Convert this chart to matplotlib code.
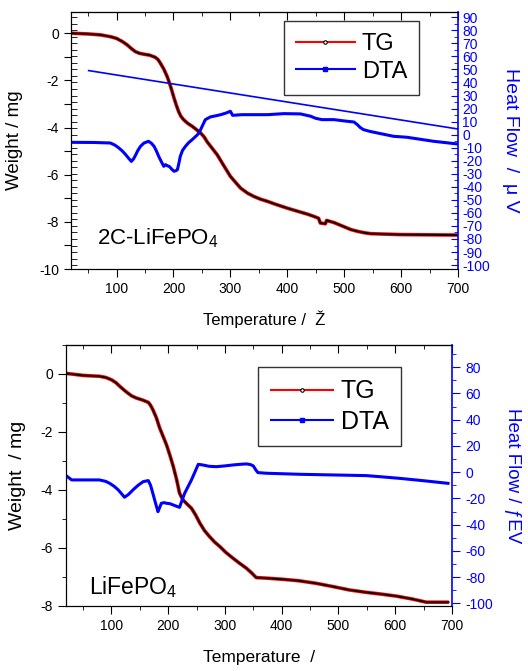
import matplotlib
matplotlib.use("Agg")
import matplotlib.pyplot as plt
from matplotlib.ticker import MultipleLocator, FixedLocator, FuncFormatter
from matplotlib.lines import Line2D
import numpy as np

plt.rcParams['font.family'] = ['Liberation Sans', 'DejaVu Sans']
plt.rcParams['mathtext.default'] = 'regular'
plt.rcParams['axes.unicode_minus'] = False

# ---------------- Top panel data (2C-LiFePO4) ----------------
tg1_T = [21, 50, 72, 90, 100, 110, 119, 126, 133, 140, 148, 158, 168, 173, 177, 183, 189, 195,
         201, 205, 209, 213, 218, 225, 233, 240, 248, 254, 259, 268, 277, 288, 300, 310, 318,
         330, 341, 353, 365, 380, 400, 418, 435, 448, 455, 458, 467, 469, 482, 499, 512, 523,
         535, 546, 570, 599, 700]
tg1_W = [0.0, -0.03, -0.07, -0.15, -0.22, -0.35, -0.5, -0.65, -0.78, -0.85, -0.89, -0.93, -1.02,
         -1.12, -1.27, -1.52, -1.84, -2.26, -2.75, -3.05, -3.32, -3.52, -3.67, -3.82, -3.95,
         -4.08, -4.24, -4.4, -4.6, -4.88, -5.16, -5.6, -6.07, -6.35, -6.57, -6.78, -6.92, -7.04,
         -7.13, -7.26, -7.42, -7.55, -7.67, -7.78, -7.85, -8.05, -8.08, -7.94, -8.03, -8.2,
         -8.33, -8.4, -8.46, -8.5, -8.52, -8.54, -8.56]
dta1_T = [21, 60, 89, 97, 104, 110, 116, 121, 126, 130, 133, 137, 142, 148, 156, 161, 166, 170,
          174, 179, 183, 186, 189, 193, 197, 201, 205, 207, 210, 212, 216, 221, 227, 233, 240,
          245, 250, 256, 265, 275, 283, 292, 300, 304, 320, 335, 365, 394, 423, 441, 450, 461,
          482, 500, 517, 523, 528, 534, 545, 558, 587, 610, 657, 700]
dta1_H = [-5.9, -6.0, -6.4, -8.0, -10.2, -12.5, -15.3, -18.0, -20.5, -18.5, -16.1, -12.5, -9.0,
          -6.5, -5.1, -6.5, -9.0, -12.5, -16.6, -21.0, -24.3, -23.0, -23.8, -24.5, -26.5, -28.1,
          -27.5, -26.8, -21.0, -16.6, -12.0, -9.0, -6.0, -3.8, -1.0, 1.3, 6.0, 11.5, 13.6, 14.5,
          15.3, 16.5, 17.9, 14.8, 15.3, 15.3, 15.3, 16.1, 15.9, 14.1, 12.5, 11.5, 11.5, 10.5,
          9.7, 7.7, 5.5, 3.8, 2.5, 1.3, -1.3, -2.0, -5.1, -7.2]
base1_T = [51, 700]
base1_H = [49.1, 4.3]

# ---------------- Bottom panel data (LiFePO4) ----------------
tg2_T = [20, 50, 79, 90, 100, 108, 115, 122, 129, 136, 144, 155, 165, 169, 173, 179, 185, 191,
         197, 203, 209, 215, 220, 226, 233, 241, 248, 256, 264, 273, 282, 291, 302, 314, 326,
         338, 347, 355, 373, 402, 430, 461, 490, 520, 549, 575, 602, 630, 655, 693]
tg2_W = [0.02, -0.05, -0.08, -0.12, -0.2, -0.3, -0.43, -0.55, -0.66, -0.76, -0.83, -0.9, -0.98,
         -1.08, -1.23, -1.5, -1.86, -2.15, -2.44, -2.8, -3.19, -3.65, -4.11, -4.34, -4.48, -4.63,
         -4.85, -5.15, -5.4, -5.61, -5.8, -5.95, -6.16, -6.35, -6.53, -6.7, -6.86, -7.02, -7.04,
         -7.08, -7.13, -7.22, -7.33, -7.45, -7.53, -7.59, -7.66, -7.76, -7.87, -7.87]
dta2_T = [21, 30, 79, 90, 97, 105, 112, 118, 123, 130, 138, 147, 156, 165, 169, 173, 178, 182,
          185, 188, 193, 197, 203, 209, 215, 220, 224, 229, 235, 241, 247, 253, 261, 272, 285,
          300, 314, 327, 338, 345, 350, 354, 358, 373, 432, 490, 549, 575, 608, 650, 693]
dta2_H = [-2.9, -5.9, -5.9, -7.0, -8.5, -10.8, -13.5, -16.5, -19.1, -17.0, -13.5, -10.0, -7.2,
          -6.4, -10.0, -16.1, -24.0, -30.1, -27.0, -23.7, -23.2, -23.7, -24.0, -25.0, -26.0,
          -26.8, -22.0, -16.1, -11.0, -5.9, 0.0, 6.0, 5.5, 4.5, 4.2, 4.8, 5.5, 6.0, 6.3, 5.8,
          4.8, 2.0, -0.3, -0.8, -1.6, -2.1, -2.6, -3.5, -4.7, -6.5, -8.5]

BLUE = (0, 0, 1)

fig = plt.figure(figsize=(5.28, 6.71), dpi=100)


def setup_x(ax):
    ax.set_xlim(20, 700)
    ax.xaxis.set_major_locator(MultipleLocator(100))
    ax.xaxis.set_minor_locator(MultipleLocator(50))
    ax.tick_params(axis='x', which='both', direction='out', top=False, labelsize=10)
    ax.tick_params(axis='x', which='major', length=6)
    ax.tick_params(axis='x', which='minor', length=3)
    sec = ax.secondary_xaxis('top')
    sec.xaxis.set_major_locator(MultipleLocator(100))
    sec.xaxis.set_minor_locator(MultipleLocator(50))
    sec.tick_params(axis='x', which='both', direction='in', labeltop=False)
    sec.tick_params(axis='x', which='major', length=6)
    sec.tick_params(axis='x', which='minor', length=3)


def draw_tg(ax, T, W):
    ax.plot(T, W, color='red', lw=2.6, solid_capstyle='round')
    ax.plot(T, W, color='black', lw=1.3)


def legend(ax, fontsize, anchor):
    h = [Line2D([], [], color='red', lw=1.5, marker='o', ms=2.5, mfc='white', mec='black', mew=0.8),
         Line2D([], [], color=BLUE, lw=1.5, marker='s', ms=2.5, mfc=BLUE, mec=BLUE)]
    leg = ax.legend(h, ['TG', 'DTA'], loc='upper right', bbox_to_anchor=anchor,
                    fontsize=fontsize, frameon=True, fancybox=False, edgecolor='black',
                    handlelength=2.5, handletextpad=0.3, borderpad=0.5, labelspacing=0.25,
                    borderaxespad=0)
    leg.get_frame().set_linewidth(1.0)
    leg.set_zorder(10)


# ================= Top panel =================
ax1 = fig.add_axes([0.1345, 0.5991, 0.733, 0.383])
y1lo, y1hi = -10, 0.9
r1lo, r1hi = -103, 94
ax1.set_ylim(y1lo, y1hi)
setup_x(ax1)
ax1.yaxis.set_major_locator(MultipleLocator(1))
ax1.yaxis.set_major_formatter(FuncFormatter(lambda v, p: ('%d' % round(v)) if round(v) % 2 == 0 else ''))
rvals = np.arange(-100, 95, 5)
ax1.yaxis.set_minor_locator(FixedLocator(y1lo + (rvals - r1lo) / (r1hi - r1lo) * (y1hi - y1lo)))
ax1.tick_params(axis='y', which='major', direction='out', length=5, labelsize=10)
ax1.tick_params(axis='y', which='minor', direction='in', length=4)
ax1.spines['right'].set_visible(False)
draw_tg(ax1, tg1_T, tg1_W)
ax1.set_xlabel('Temperature /  Ž', fontsize=12, labelpad=10)
ax1.set_ylabel('Weight / mg', fontsize=13.5, labelpad=12)
ax1.text(0.067, 0.12, '2C-LiFePO$_4$', transform=ax1.transAxes, fontsize=16, va='center')

ax1b = ax1.twinx()
ax1b.set_ylim(r1lo, r1hi)
ax1b.plot(dta1_T, dta1_H, color=BLUE, lw=2.2)
ax1b.plot(base1_T, base1_H, color=BLUE, lw=1.2)
ax1b.yaxis.set_major_locator(MultipleLocator(10))
ax1b.yaxis.set_minor_locator(MultipleLocator(5))
ax1b.tick_params(axis='y', which='both', direction='in', colors=BLUE, labelsize=10, pad=3)
ax1b.tick_params(axis='y', which='major', length=5)
ax1b.tick_params(axis='y', which='minor', length=3)
ax1b.spines['right'].set_color(BLUE)
ax1b.spines['right'].set_linewidth(1.2)
ax1b.set_ylabel('Heat Flow  /  μ V', color=BLUE, fontsize=14, rotation=-90, labelpad=21)
legend(ax1b, 17, (0.899, 0.965))

# ================= Bottom panel =================
ax2 = fig.add_axes([0.125, 0.0969, 0.731, 0.389])
ax2.set_ylim(-8, 1)
setup_x(ax2)
ax2.yaxis.set_major_locator(MultipleLocator(2))
ax2.yaxis.set_minor_locator(MultipleLocator(1))
ax2.tick_params(axis='y', which='both', direction='out', labelsize=10)
ax2.tick_params(axis='y', which='major', length=6)
ax2.tick_params(axis='y', which='minor', length=3)
ax2.spines['right'].set_visible(False)
draw_tg(ax2, tg2_T, tg2_W)
ax2.set_xlabel('Temperature  /', fontsize=12.5, labelpad=12)
ax2.set_ylabel('Weight  / mg', fontsize=14, labelpad=10)
ax2.text(0.06, 0.073, 'LiFePO$_4$', transform=ax2.transAxes, fontsize=16.5, va='center')

ax2b = ax2.twinx()
ax2b.set_ylim(-102, 97)
ax2b.plot(dta2_T, dta2_H, color=BLUE, lw=2.2)
ax2b.yaxis.set_major_locator(MultipleLocator(20))
ax2b.yaxis.set_minor_locator(MultipleLocator(10))
ax2b.tick_params(axis='y', which='both', direction='out', colors=BLUE, labelsize=10)
ax2b.tick_params(axis='y', which='major', length=6)
ax2b.tick_params(axis='y', which='minor', length=3)
ax2b.spines['right'].set_color(BLUE)
ax2b.spines['right'].set_linewidth(1.2)
ax2b.set_ylabel('Heat Flow / ƒEV', color=BLUE, fontsize=13.5, rotation=-90, labelpad=20)
legend(ax2b, 18, (0.868, 0.916))

fig.savefig('out.png', dpi=100)
